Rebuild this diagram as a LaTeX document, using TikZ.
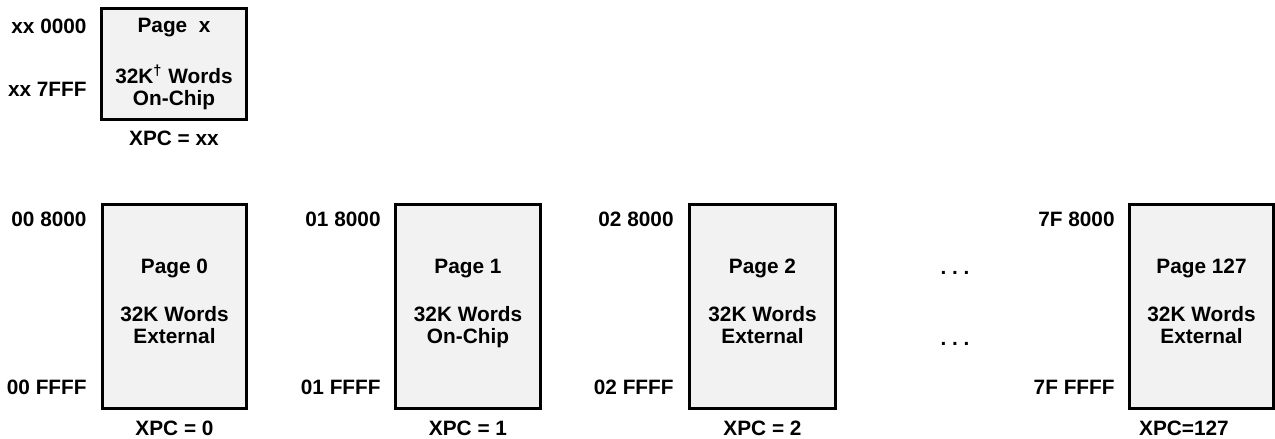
\documentclass[tikz,border=0pt]{standalone}
\usepackage{fontspec}
\setmainfont{Liberation Sans}
\definecolor{pagegray}{RGB}{242,242,242}
\begin{document}
\begin{tikzpicture}[x=0.5pt, y=-0.5pt,
  every node/.style={font=\bfseries\fontsize{10.4}{11}\selectfont},
  page/.style={draw, line width=1.5pt, fill=pagegray},
  addr/.style={anchor=east, inner sep=0pt}]
\useasboundingbox (0,0) rectangle (1275,439);

% page x, on-chip
\draw[page] (101.5,8.5) rectangle (246.5,119.5) node[pos=.5, align=center] (px) {Page\ \ x\\[13pt]32K\textsuperscript{†} Words\\On-Chip};
\node [addr] (pxlo) at (87,26) {xx 0000};
\node [addr] (pxhi) at (87,89) {xx 7FFF};
\node (xpcx) at (174,138) {XPC = xx};

% pages 0, 1, 2
\draw[page] (102.5,204.5) rectangle (246.5,408.5) node[pos=.5, align=center, text depth=3pt, yshift=1pt] (p0) {Page 0\\[13pt]32K Words\\External};
\draw[page] (395.5,204.5) rectangle (540.5,408.5) node[pos=.5, align=center, text depth=3pt, yshift=1pt] (p1) {Page 1\\[13pt]32K Words\\On-Chip};
\draw[page] (689.5,204.5) rectangle (835.5,408.5) node[pos=.5, align=center, text depth=3pt, yshift=1pt] (p2) {Page 2\\[13pt]32K Words\\External};
\node [addr] (p0lo) at (87,219) {00 8000};
\node [addr] (p0hi) at (87,387) {00 FFFF};
\node [addr] (p1lo) at (381,219) {01 8000};
\node [addr] (p1hi) at (381,387) {01 FFFF};
\node [addr] (p2lo) at (674,219) {02 8000};
\node [addr] (p2hi) at (674,387) {02 FFFF};
\node (xpc0) at (174.5,428) {XPC = 0};
\node (xpc1) at (468,428) {XPC = 1};
\node (xpc2) at (762.5,428) {XPC = 2};

% gap
\node (dotsa) at (955,273) {.\ .\ .};
\node (dotsb) at (955,344) {.\ .\ .};

% page 127
\draw[page] (1129.5,204.5) rectangle (1273.5,408.5) node[pos=.5, align=center, text depth=3pt, yshift=1pt] (p127) {Page 127\\[13pt]32K Words\\External};
\node [addr] (p127lo) at (1115,219) {7F 8000};
\node [addr] (p127hi) at (1115,387) {7F FFFF};
\node (xpc127) at (1184,428) {XPC=127};
\end{tikzpicture}
\end{document}
